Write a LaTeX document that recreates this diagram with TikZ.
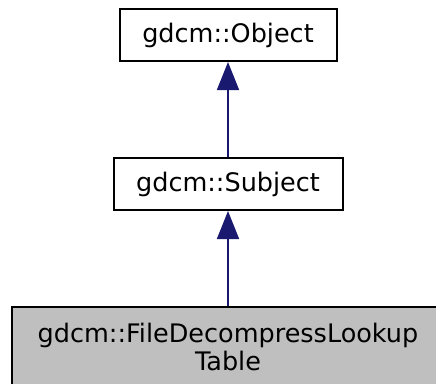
\documentclass[tikz,border=0pt]{standalone}
\usepackage{fontspec}
\setmainfont{DejaVu Sans}
\usetikzlibrary{arrows.meta}

\definecolor{edgeblue}{RGB}{25,25,112}
\definecolor{boxgray}{RGB}{191,191,191}

\tikzset{
  classbox/.style={draw=black, line width=2pt, fill=white, inner sep=0pt,
    align=center, font=\fontsize{25.5}{28}\selectfont},
  inherit/.style={draw=edgeblue, line width=1.6pt,
    -{Triangle[length=28pt, width=22pt, fill=edgeblue]}}
}

\begin{document}
\begin{tikzpicture}[x=1pt, y=-1pt]
	\useasboundingbox (0,0) rectangle (436,383);
	\clip (0,0) rectangle (436,383);
	
	% clases
	\node[classbox, minimum width=217pt, minimum height=52pt] (object) at (228, 35) {gdcm::Object};
	\node[classbox, minimum width=229pt, minimum height=52pt] (subject) at (228, 184) {gdcm::Subject};
	\node[classbox, fill=boxgray, minimum width=432pt, minimum height=80pt] (lookup) at (228, 347) {gdcm::FileDecompressLookup\\Table};
	
	% herencia
	\draw[inherit] (subject.north) -- (object.south);
	\draw[inherit] (lookup.north) -- (subject.south);
\end{tikzpicture}
\end{document}
